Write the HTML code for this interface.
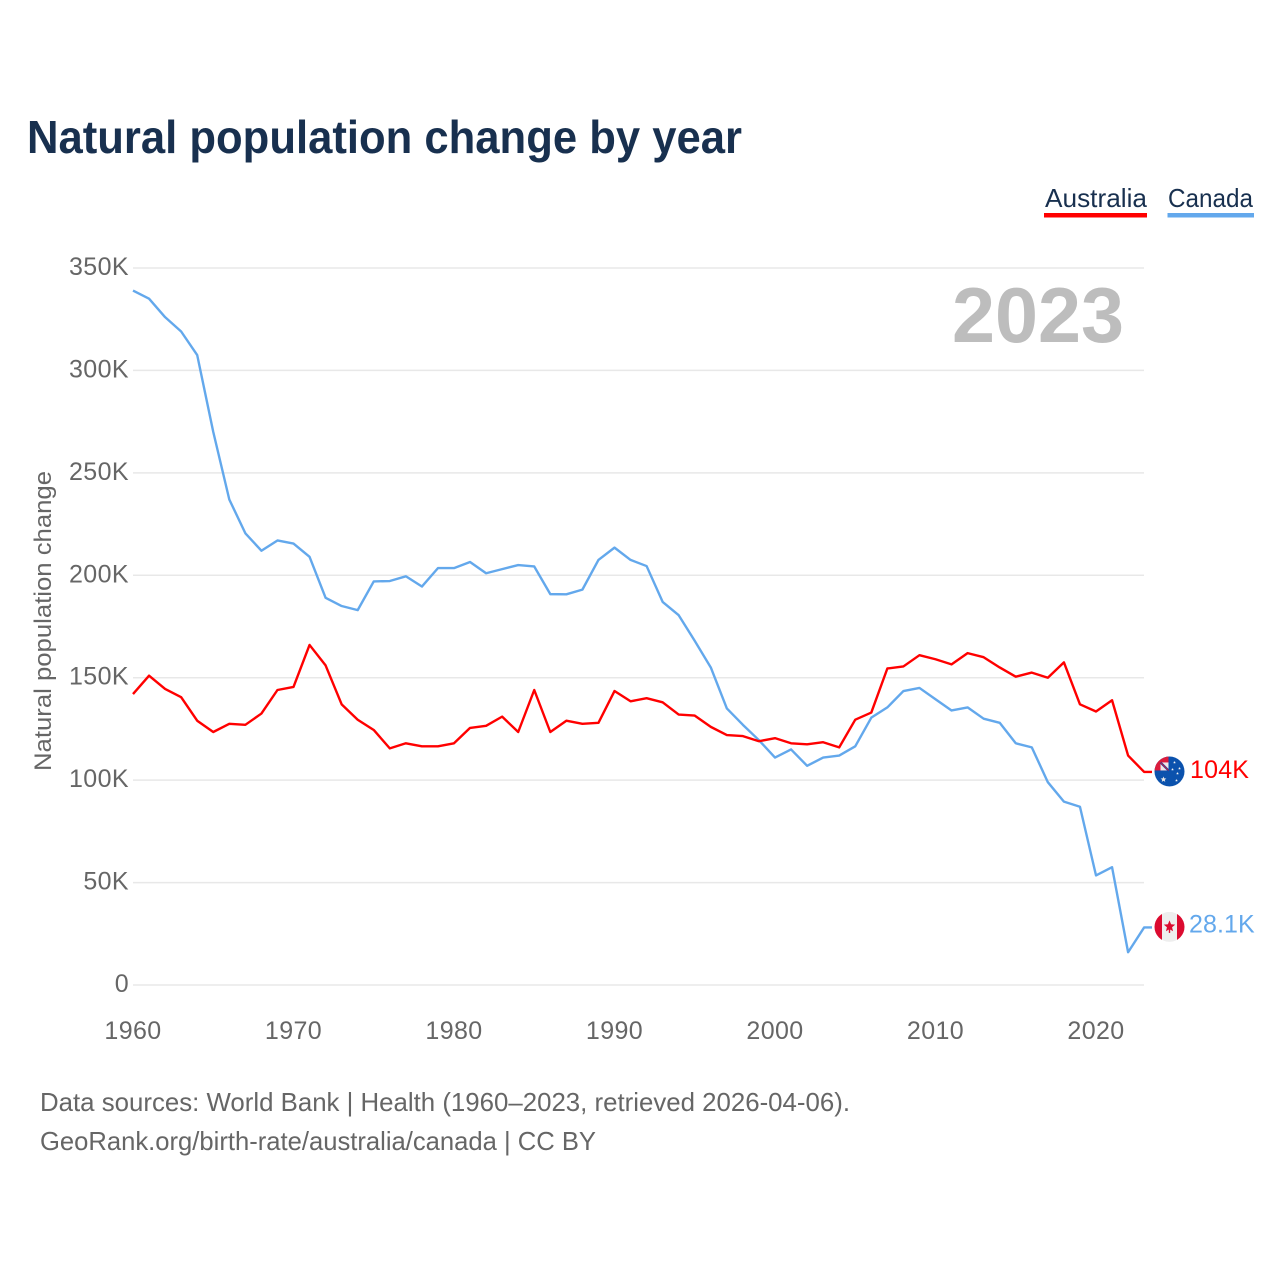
<!DOCTYPE html>
<html lang="en">
<head>
<meta charset="utf-8">
<title>Natural population change by year</title>
<style>
html,body{margin:0;padding:0;background:#fff;width:1280px;height:1280px;overflow:hidden}
svg{display:block;font-family:"Liberation Sans",sans-serif}
</style>
</head>
<body>
<svg id="chart" width="1280" height="1280" viewBox="0 0 1280 1280" xmlns="http://www.w3.org/2000/svg">
  <defs>
    <clipPath id="flag-clip-au"><circle cx="0" cy="0" r="15"></circle></clipPath>
    <clipPath id="flag-clip-ca"><circle cx="0" cy="0" r="15"></circle></clipPath>
  </defs>
  <text x="27" y="153" font-size="46" font-weight="700" fill="#18304f" textLength="715" lengthAdjust="spacingAndGlyphs">Natural population change by year</text>

  <g>
    <g>
      <text x="1045" y="207" font-size="26" fill="#18304f" textLength="102" lengthAdjust="spacingAndGlyphs">Australia</text>
      <rect x="1044" y="213" width="103" height="4.5" fill="#ff0000"></rect>
    </g>
    <g>
      <text x="1168" y="207" font-size="26" fill="#18304f" textLength="85" lengthAdjust="spacingAndGlyphs">Canada</text>
      <rect x="1167.5" y="213" width="86.5" height="4.5" fill="#63a8ec"></rect>
    </g>
  </g>

  <g id="grid"></g>
  <g id="y-axis"></g>
  <g id="x-axis"></g>

  <text transform="translate(51,621) rotate(-90)" text-anchor="middle" font-size="24" fill="#666666" textLength="300" lengthAdjust="spacingAndGlyphs">Natural population change</text>
  <text x="1124" y="342" text-anchor="end" font-size="78" font-weight="700" fill="#bdbdbd" textLength="172" lengthAdjust="spacingAndGlyphs">2023</text>

  <g id="series"></g>
  <g id="end-markers"></g>

  <text x="40" y="1111" font-size="26" fill="#666666" textLength="810" lengthAdjust="spacingAndGlyphs">Data sources: World Bank | Health (1960–2023, retrieved 2026-04-06).</text>
  <text x="40" y="1150" font-size="26" fill="#666666" textLength="556" lengthAdjust="spacingAndGlyphs">GeoRank.org/birth-rate/australia/canada | CC BY</text>
</svg>

<script>
const startYear = 1960;
const australiaValues = [142,151,144.5,140.5,129,123.5,127.5,127,132.5,144,145.5,166,156,137,129.5,124.5,115.5,118,116.5,116.5,118,125.5,126.5,131,123.5,144,123.5,129,127.5,128,143.5,138.5,140,138,132,131.5,126,122,121.5,119,120.5,118,117.5,118.5,116,129.5,133,154.5,155.5,161,159,156.5,162,160,155,150.5,152.5,150,157.5,137,133.5,139,112,104];
const canadaValues = [339,335,326,319,307.5,270,237,220.5,212,217,215.5,209,189,185,183,197,197.2,199.5,194.5,203.5,203.5,206.5,201,203,205,204.3,190.8,190.7,193,207.5,213.5,207.5,204.5,187,180.5,168,155,135,127,119.5,111,115,107,111,112,116.5,130.5,135.5,143.5,145,139.5,134,135.5,130,128,118,116,99,89.5,87,53.5,57.5,16,28.1];
const yTicks = [0,50,100,150,200,250,300,350];
const yTickLabels = ["0","50K","100K","150K","200K","250K","300K","350K"];
const xTicks = [1960,1970,1980,1990,2000,2010,2020];
const australiaEndLabel = "104K";
const canadaEndLabel = "28.1K";

const NS = "http://www.w3.org/2000/svg";
const xScale = year => 133 + (year - 1960) * 16.05;
const yScale = value => 985 - value * 2.0486;
const make = (tag, attrs, parent) => {
  const el = document.createElementNS(NS, tag);
  for (const k in attrs) el.setAttribute(k, attrs[k]);
  parent.appendChild(el);
  return el;
};
const grid = document.getElementById("grid");
const yAxis = document.getElementById("y-axis");
const xAxis = document.getElementById("x-axis");
const series = document.getElementById("series");
const markers = document.getElementById("end-markers");

yTicks.forEach((t, i) => {
  const line = make("line", {x1:133, x2:1144, y1:yScale(t), y2:yScale(t), stroke:"#e8e8e8", "stroke-width":1.5}, grid);
  
  
  const label = make("text", {x:129, y:yScale(t)+7, "text-anchor":"end", "font-size":25, "letter-spacing":0.4, fill:"#666666"}, yAxis);
  label.textContent = yTickLabels[i];
  
  
});

xTicks.forEach(t => {
  const label = make("text", {x:xScale(t), y:1039, "text-anchor":"middle", "font-size":25, "letter-spacing":0.4, fill:"#666666"}, xAxis);
  label.textContent = t;
  
  
});

function drawLine(values, color) {
  const pts = values.map((v, i) => xScale(startYear + i).toFixed(2) + "," + yScale(v).toFixed(2));
  const last = values[values.length - 1];
  pts.push("1152," + yScale(last).toFixed(2));
  return make("polyline", {points:pts.join(" "), fill:"none", stroke:color, "stroke-width":2.4, "stroke-linejoin":"round"}, series);
}
const canadaLine = drawLine(canadaValues, "#63a8ec");


const australiaLine = drawLine(australiaValues, "#ff0000");



function star(parent, cx, cy, r, fill) {
  const p = [];
  for (let i = 0; i < 10; i++) {
    const a = -Math.PI / 2 + i * Math.PI / 5;
    const rr = i % 2 ? r * 0.45 : r;
    p.push((cx + rr * Math.cos(a)).toFixed(2) + "," + (cy + rr * Math.sin(a)).toFixed(2));
  }
  return make("polygon", {points:p.join(" "), fill:fill}, parent);
}

const auY = yScale(australiaValues[australiaValues.length - 1]);
const auFlag = make("g", {transform:"translate(1169.5," + (auY - 0.5) + ")", "clip-path":"url(#flag-clip-au)"}, markers);


make("rect", {x:-15, y:-15, width:30, height:30, fill:"#0b52ad"}, auFlag);
make("rect", {x:-15, y:-15, width:14, height:14, fill:"#dc1c3c"}, auFlag);
make("rect", {x:-9, y:-9, width:8, height:8, fill:"#f2e6e8"}, auFlag);
make("line", {x1:-9, y1:-9, x2:0, y2:0, stroke:"#0b52ad", "stroke-width":2.2}, auFlag);
make("line", {x1:-9, y1:-9, x2:-1, y2:-1, stroke:"#e0102f", "stroke-width":1}, auFlag);
star(auFlag, -6, 8, 3, "#e6e6e6");
star(auFlag, 5, -9, 1.4, "#f3f3f3");
star(auFlag, 3, -2, 1.4, "#f3f3f3");
star(auFlag, 10, -3, 1.4, "#f3f3f3");
star(auFlag, 8, 2, 1.4, "#f3f3f3");
star(auFlag, 7, 9, 1.4, "#f3f3f3");
const auLabel = make("text", {x:1190, y:auY + 6, "font-size":25, "letter-spacing":0.2, fill:"#ff0000"}, markers);
auLabel.textContent = australiaEndLabel;



const caY = yScale(canadaValues[canadaValues.length - 1]);
const caFlag = make("g", {transform:"translate(1169.5," + (caY - 0.5) + ")", "clip-path":"url(#flag-clip-ca)"}, markers);


make("rect", {x:-15, y:-15, width:30, height:30, fill:"#eeeeee"}, caFlag);
make("rect", {x:-15, y:-15, width:7.5, height:30, fill:"#dc0b30"}, caFlag);
make("rect", {x:7.5, y:-15, width:7.5, height:30, fill:"#dc0b30"}, caFlag);
star(caFlag, 0, -0.5, 6, "#dc0b30");
make("rect", {x:-0.7, y:2, width:1.4, height:4, fill:"#dc0b30"}, caFlag);
const caLabel = make("text", {x:1189, y:caY + 5, "font-size":25, "letter-spacing":0.1, fill:"#63a8ec"}, markers);
caLabel.textContent = canadaEndLabel;


</script>
</body>
</html>
